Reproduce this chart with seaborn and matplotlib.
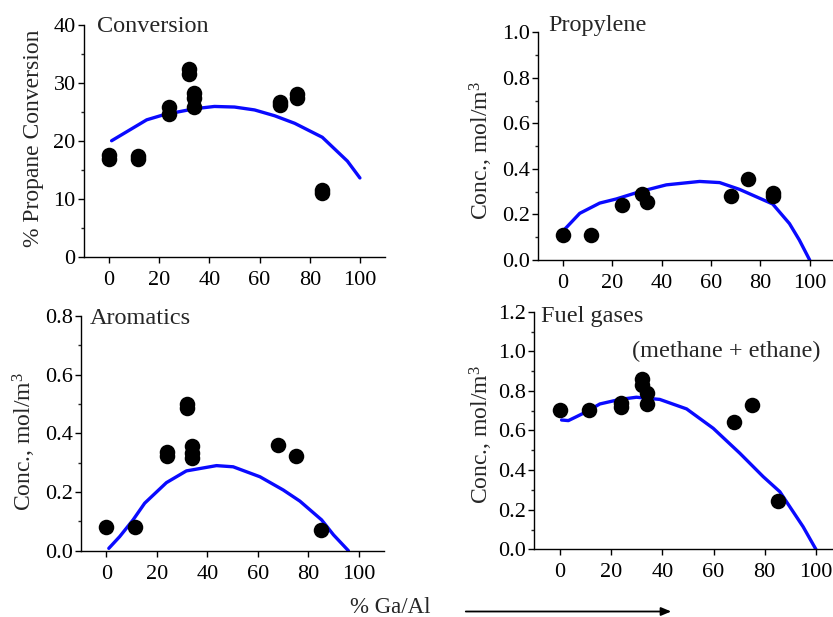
import numpy as np
import pandas as pd
import matplotlib
matplotlib.use("Agg")
import matplotlib.pyplot as plt
from matplotlib.ticker import MultipleLocator, FormatStrFormatter
import seaborn as sns

# ---------------- data ----------------
conv_x = [0, 0, 11.5, 11.5, 24, 24, 32, 32, 34, 34, 34, 68, 68, 75, 75, 85, 85]
conv_y = [17.5, 16.9, 17.4, 16.9, 25.8, 24.6, 32.3, 31.5, 28.3, 27.3, 25.8, 26.6, 26.2, 28.0, 27.4, 11.6, 11.0]
conv_fit_x = [1, 15, 22, 34, 42, 50, 58, 66, 74, 85, 95, 100]
conv_fit_y = [20.0, 23.6, 24.5, 25.5, 25.9, 25.8, 25.3, 24.3, 23.0, 20.6, 16.5, 13.6]

prop_x = [0, 11.5, 24, 32, 34, 68, 75, 85, 85]
prop_y = [0.11, 0.11, 0.241, 0.288, 0.256, 0.281, 0.356, 0.296, 0.279]
prop_fit_x = [0.7, 6.8, 14.9, 21.6, 31.1, 41.9, 55.4, 63.5, 71.6, 85, 91.8, 95.8, 100]
prop_fit_y = [0.135, 0.205, 0.25, 0.268, 0.30, 0.33, 0.345, 0.34, 0.31, 0.246, 0.16, 0.088, 0.0]

arom_x = [0, 11.5, 24, 24, 32, 32, 34, 34, 34, 68, 75, 85]
arom_y = [0.082, 0.082, 0.337, 0.324, 0.50, 0.485, 0.358, 0.332, 0.315, 0.36, 0.324, 0.071]
arom_fit_x = [1, 5.3, 10.6, 15.2, 23.8, 31.7, 43.6, 50.2, 60.8, 70, 76.6, 85.2, 89.9, 95.8]
arom_fit_y = [0.008, 0.048, 0.105, 0.162, 0.232, 0.272, 0.29, 0.286, 0.252, 0.207, 0.169, 0.105, 0.054, 0.0]

fuel_x = [0, 11.5, 24, 24, 32, 32, 34, 34, 68, 75, 85]
fuel_y = [0.704, 0.704, 0.737, 0.717, 0.859, 0.83, 0.788, 0.732, 0.645, 0.729, 0.245]
fuel_fit_x = [0.65, 3.3, 6.5, 10.4, 15.6, 23.4, 29.9, 39, 49.5, 59.9, 70.3, 79.4, 85.9, 95, 100]
fuel_fit_y = [0.653, 0.65, 0.67, 0.695, 0.734, 0.757, 0.768, 0.757, 0.709, 0.611, 0.485, 0.367, 0.291, 0.114, 0.0]

x_ticks = [0, 20, 40, 60, 80, 100]

# ---------------- style ----------------
sns.set_style("ticks")
plt.rcParams["font.family"] = ["Liberation Serif", "DejaVu Serif"]
plt.rcParams["mathtext.fontset"] = "custom"
plt.rcParams["mathtext.rm"] = "Liberation Serif"
plt.rcParams["mathtext.it"] = "Liberation Serif:italic"
plt.rcParams["axes.linewidth"] = 1.0

W, H = 833, 617
fig = plt.figure(figsize=(W / 100, H / 100), dpi=100)

def px_axes(left, right, top, bottom):
    return fig.add_axes([left / W, (H - bottom) / H, (right - left) / W, (bottom - top) / H])

panels = [
    dict(rect=(84, 385, 24.5, 257), x=conv_x, y=conv_y, fx=conv_fit_x, fy=conv_fit_y,
         ylim=(0, 40), major=10, minor=5, fmt="%d", ylabel="% Propane Conversion",
         title="Conversion", tpos=(0.042, 0.969), lab=(-0.133, 0.51)),
    dict(rect=(538.3, 538.3 + 2.467 * 120, 32.3, 260), x=prop_x, y=prop_y, fx=prop_fit_x, fy=prop_fit_y,
         ylim=(0, 1.0), major=0.2, minor=0.1, fmt="%.1f", ylabel="Conc., mol/m$^3$",
         title="Propylene", tpos=(0.034, 1.007), lab=(-0.146, 0.483)),
    dict(rect=(81, 384.3, 316, 550.7), x=arom_x, y=arom_y, fx=arom_fit_x, fy=arom_fit_y,
         ylim=(0, 0.8), major=0.2, minor=0.1, fmt="%.1f", ylabel="Conc., mol/m$^3$",
         title="Aromatics", tpos=(0.03, 0.965), lab=(-0.142, 0.465)),
    dict(rect=(534.3, 534.3 + 2.56 * 120, 311.7, 549.3), x=fuel_x, y=fuel_y, fx=fuel_fit_x, fy=fuel_fit_y,
         ylim=(0, 1.2), major=0.2, minor=0.1, fmt="%.1f", ylabel="Conc., mol/m$^3$",
         title="Fuel gases", tpos=(0.021, 0.955), lab=(-0.128, 0.485)),
]

for p in panels:
    l, r, t, b = p["rect"]
    ax = px_axes(l, r, t, b)
    fit_df = pd.DataFrame({"x": p["fx"], "y": p["fy"]})
    pts_df = pd.DataFrame({"x": p["x"], "y": p["y"]})
    sns.lineplot(data=fit_df, x="x", y="y", ax=ax, color="#0a0aff", linewidth=2.4,
                 sort=False, estimator=None, zorder=2)
    sns.scatterplot(data=pts_df, x="x", y="y", ax=ax, color="black", s=125,
                    edgecolor="black", linewidth=0, zorder=3)
    ax.set_xlim(-10, 110)
    ax.set_ylim(*p["ylim"])
    ax.set_xticks(x_ticks)
    ax.yaxis.set_major_locator(MultipleLocator(p["major"]))
    ax.yaxis.set_minor_locator(MultipleLocator(p["minor"]))
    ax.yaxis.set_major_formatter(FormatStrFormatter(p["fmt"]))
    ax.tick_params(axis="both", which="major", direction="out", length=4, width=1,
                   labelsize=16, colors="black", pad=2)
    ax.tick_params(axis="y", which="minor", direction="out", length=2.5, width=1)
    ax.tick_params(axis="x", which="major", pad=6)
    sns.despine(ax=ax)
    for s in ("left", "bottom"):
        ax.spines[s].set_color("black")
    ax.set_xlabel("")
    ax.set_ylabel(p["ylabel"], fontsize=17)
    ax.yaxis.set_label_coords(*p["lab"])
    ax.text(p["tpos"][0], p["tpos"][1], p["title"], transform=ax.transAxes,
            fontsize=17.5, ha="left", va="baseline")
    if p["title"] == "Fuel gases":
        ax.text(0.317, 0.81, "(methane + ethane)", transform=ax.transAxes,
                fontsize=17.5, ha="left", va="baseline")

fig.text(390 / W, 4 / H, "% Ga/Al", fontsize=16.5, ha="center", va="baseline")
fig.patches.append(matplotlib.patches.FancyArrowPatch(
    (463 / W, 5.5 / H), (674 / W, 5.5 / H), transform=fig.transFigure,
    arrowstyle="-|>,head_length=6,head_width=2.5", color="black", linewidth=1.3,
    mutation_scale=1))

fig.savefig("out.png", dpi=100)
